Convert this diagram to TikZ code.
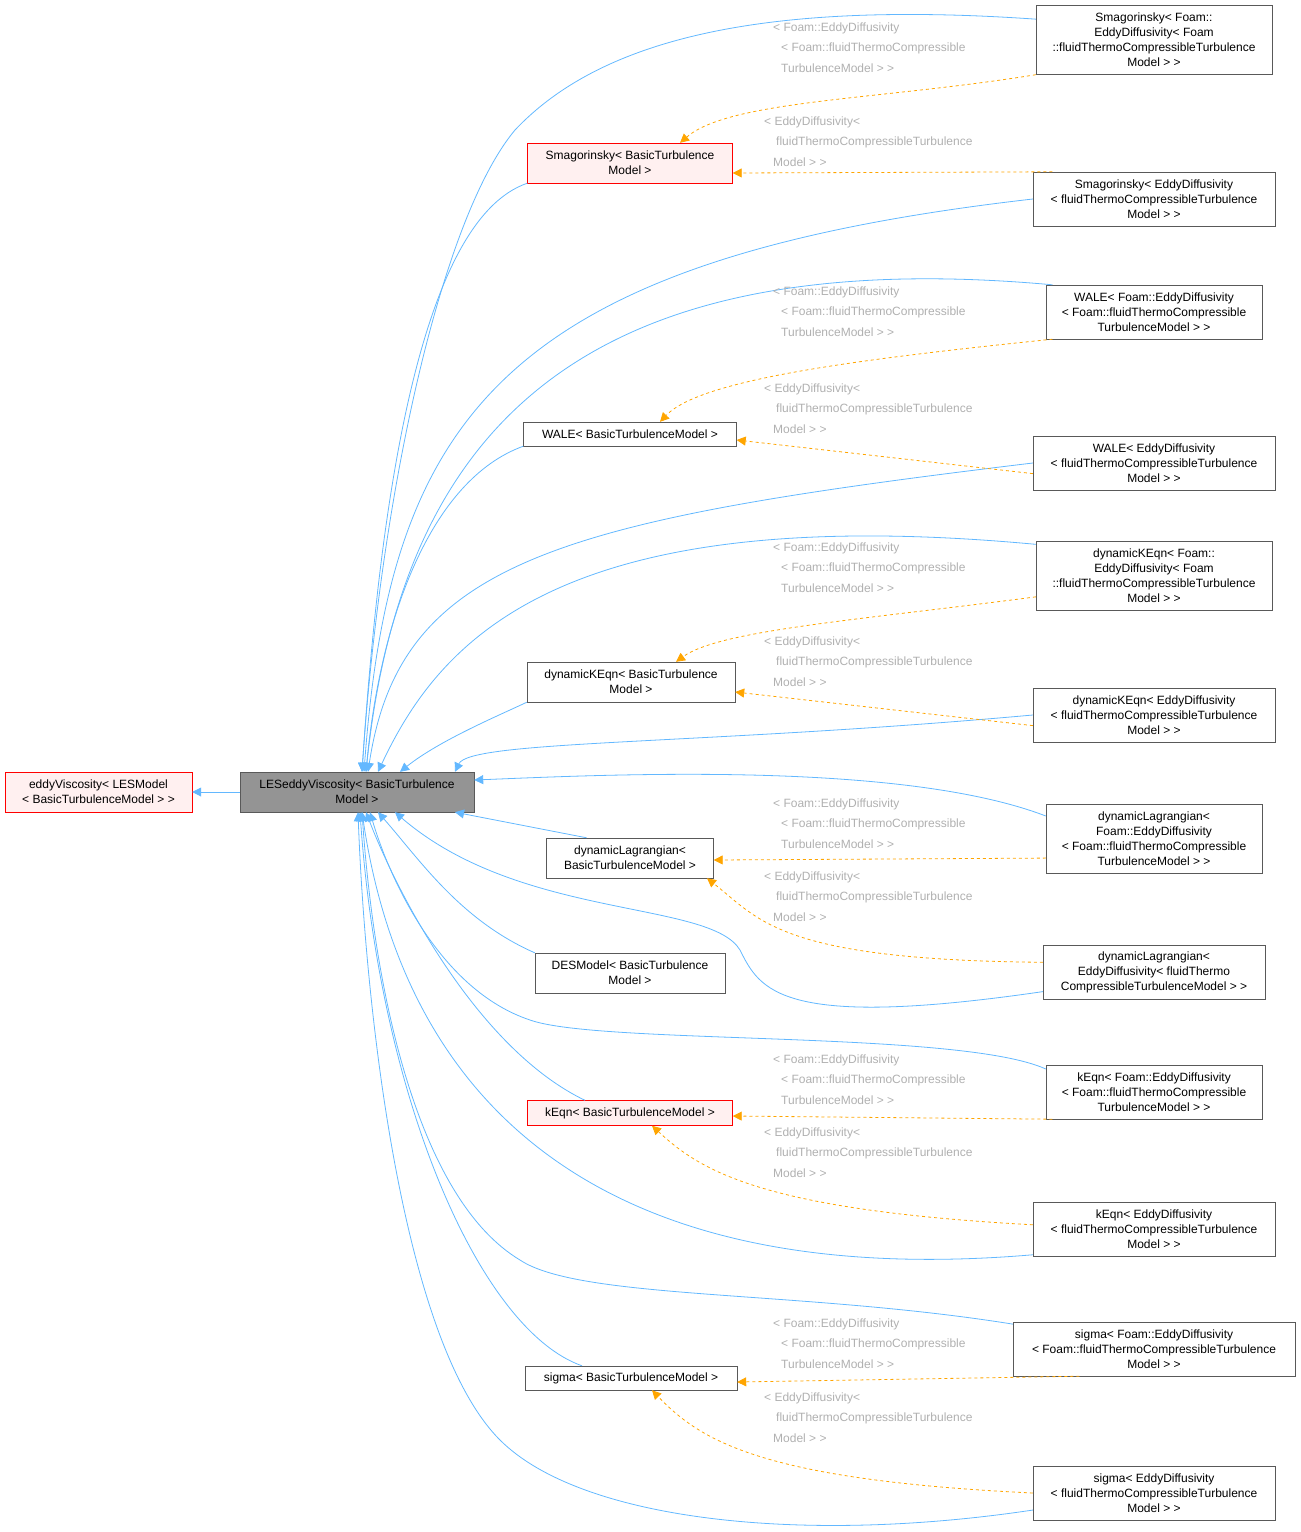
\documentclass[tikz,border=0pt]{standalone}
\usepackage{fontspec}
\setmainfont{Liberation Sans}
\usetikzlibrary{arrows.meta}
\definecolor{inhblue}{HTML}{63B8FF}
\definecolor{tplorange}{HTML}{FFA500}
\definecolor{lblgray}{HTML}{B0B0B0}
\definecolor{redfill}{HTML}{FFF0F0}
\tikzset{
  cls/.style={draw=black!65,fill=white,align=center,inner sep=2pt,font=\fontsize{12}{15}\selectfont},
  redcls/.style={cls,draw=red,fill=redfill},
  inh/.style={inhblue,line width=0.8pt,-{Triangle[length=9pt,width=9pt]}},
  tpl/.style={tplorange,line width=0.8pt,dashed,-{Triangle[length=9pt,width=9pt]}},
  lbl/.style={lblgray,anchor=west,inner sep=0pt,font=\fontsize{12}{15}\selectfont}
}
\begin{document}
\begin{tikzpicture}[x=1pt,y=-1pt]
\useasboundingbox (0,0) rectangle (1301,1532);

% base classes
\node[redcls,minimum width=187,minimum height=40] (eddy) at (98.5,792) {eddyViscosity< LESModel\\< BasicTurbulenceModel > >};
\node[cls,fill=black!42,minimum width=234,minimum height=40] (les) at (357,792) {LESeddyViscosity< BasicTurbulence\\Model >};
\draw[inh] (les) -- (eddy);

% templates
\node[redcls,minimum width=205,minimum height=40] (smag) at (630,163) {Smagorinsky< BasicTurbulence\\Model >};
\node[cls,minimum width=213,minimum height=24] (wale) at (630,434) {WALE< BasicTurbulenceModel >};
\node[cls,minimum width=208,minimum height=40] (dynk) at (631,682) {dynamicKEqn< BasicTurbulence\\Model >};
\node[cls,minimum width=167,minimum height=40] (dynl) at (630,858) {dynamicLagrangian<\\BasicTurbulenceModel >};
\node[cls,minimum width=190,minimum height=40] (des) at (630,973) {DESModel< BasicTurbulence\\Model >};
\node[redcls,minimum width=205,minimum height=25] (keqn) at (630,1113) {kEqn< BasicTurbulenceModel >};
\node[cls,minimum width=212,minimum height=24] (sigma) at (631,1378) {sigma< BasicTurbulenceModel >};

% instances
\node[cls,minimum width=236,minimum height=69] (smagF) at (1154,40) {Smagorinsky< Foam::\\EddyDiffusivity< Foam\\::fluidThermoCompressibleTurbulence\\Model > >};
\node[cls,minimum width=242,minimum height=54] (smagE) at (1154,199) {Smagorinsky< EddyDiffusivity\\< fluidThermoCompressibleTurbulence\\Model > >};
\node[cls,minimum width=216,minimum height=54] (waleF) at (1154,312) {WALE< Foam::EddyDiffusivity\\< Foam::fluidThermoCompressible\\TurbulenceModel > >};
\node[cls,minimum width=242,minimum height=54] (waleE) at (1154,463) {WALE< EddyDiffusivity\\< fluidThermoCompressibleTurbulence\\Model > >};
\node[cls,minimum width=236,minimum height=69] (dynkF) at (1154,576) {dynamicKEqn< Foam::\\EddyDiffusivity< Foam\\::fluidThermoCompressibleTurbulence\\Model > >};
\node[cls,minimum width=242,minimum height=54] (dynkE) at (1154,715) {dynamicKEqn< EddyDiffusivity\\< fluidThermoCompressibleTurbulence\\Model > >};
\node[cls,minimum width=216,minimum height=69] (dynlF) at (1154,839) {dynamicLagrangian<\\Foam::EddyDiffusivity\\< Foam::fluidThermoCompressible\\TurbulenceModel > >};
\node[cls,minimum width=222,minimum height=54] (dynlE) at (1154,972) {dynamicLagrangian<\\EddyDiffusivity< fluidThermo\\CompressibleTurbulenceModel > >};
\node[cls,minimum width=216,minimum height=54] (keqnF) at (1154,1092) {kEqn< Foam::EddyDiffusivity\\< Foam::fluidThermoCompressible\\TurbulenceModel > >};
\node[cls,minimum width=242,minimum height=54] (keqnE) at (1154,1229) {kEqn< EddyDiffusivity\\< fluidThermoCompressibleTurbulence\\Model > >};
\node[cls,minimum width=282,minimum height=54] (sigmaF) at (1154,1349) {sigma< Foam::EddyDiffusivity\\< Foam::fluidThermoCompressibleTurbulence\\Model > >};
\node[cls,minimum width=242,minimum height=54] (sigmaE) at (1154,1493) {sigma< EddyDiffusivity\\< fluidThermoCompressibleTurbulence\\Model > >};

% inheritance edges
\draw[inh] (smagF.170) .. controls (760,0) and (600,40) .. (515,130) .. controls (440,220) and (380,500) .. (les.north -| 362,0);
\draw[inh] (smag.south west) .. controls (420,220) and (380,500) .. (les.north -| 362,0);
\draw[inh] (smagE.west) .. controls (500,260) and (390,420) .. (les.north -| 364,0);
\draw[inh] (waleF.165) .. controls (560,240) and (400,450) .. (les.north -| 366,0);
\draw[inh] (wale.south west) .. controls (430,480) and (380,620) .. (les.north -| 366,0);
\draw[inh] (waleE.west) .. controls (560,520) and (400,560) .. (les.north -| 368,0);
\draw[inh] (dynkF.165) .. controls (560,500) and (440,640) .. (les.north -| 378,0);
\draw[inh] (dynk.south west) .. controls (500,715) and (440,740) .. (les.north -| 400,0);
\draw[inh] (dynkE.west) .. controls (700,745) and (470,740) .. (les.north -| 455,0);
\draw[inh] (dynlF.168) .. controls (900,760) and (600,775) .. (les.east |- 0,780);
\draw[inh] (dynl.155) -- (les.south -| 455,0);
\draw[inh] (dynlE.190) .. controls (780,1030) and (760,990) .. (740,950) .. controls (710,900) and (520,920) .. (les.south -| 395,0);
\draw[inh] (des.north west) .. controls (460,920) and (420,860) .. (les.south -| 378,0);
\draw[inh] (keqnF.168) .. controls (960,1030) and (600,1045) .. (530,1020) .. controls (440,990) and (390,880) .. (les.south -| 370,0);
\draw[inh] (keqn.north -| 585,0) .. controls (480,1050) and (400,900) .. (les.south -| 366,0);
\draw[inh] (keqnE.192) .. controls (500,1300) and (390,1000) .. (les.south -| 362,0);
\draw[inh] (sigmaF.170) .. controls (800,1290) and (580,1300) .. (520,1260) .. controls (420,1200) and (375,1000) .. (les.south -| 362,0);
\draw[inh] (sigma.north -| 582,0) .. controls (480,1330) and (380,1100) .. (les.south -| 360,0);
\draw[inh] (sigmaE.188) .. controls (800,1545) and (580,1520) .. (500,1440) .. controls (400,1340) and (365,1000) .. (les.south -| 358,0);

% template instantiation edges
\draw[tpl] (smagF.south west) .. controls (880,100) and (730,100) .. (smag.north -| 680,0);
\draw[tpl] (smagE.165) -- (smag.east |- 0,173);
\draw[tpl] (waleF.195) .. controls (850,360) and (700,380) .. (wale.north -| 660,0);
\draw[tpl] (waleE.185) -- (wale.east |- 0,440);
\draw[tpl] (dynkF.190) .. controls (860,620) and (720,630) .. (dynk.north -| 676,0);
\draw[tpl] (dynkE.185) -- (dynk.east |- 0,692);
\draw[tpl] (dynlF.190) -- (dynl.east |- 0,860);
\draw[tpl] (dynlE.175) .. controls (780,960) and (760,920) .. (dynl.south -| 707,0);
\draw[tpl] (keqnF.195) -- (keqn.east |- 0,1116);
\draw[tpl] (keqnE.178) .. controls (760,1210) and (700,1170) .. (keqn.south -| 652,0);
\draw[tpl] (sigmaF.200) -- (sigma.east |- 0,1382);
\draw[tpl] (sigmaE.180) .. controls (760,1480) and (700,1440) .. (sigma.south -| 652,0);

% edge labels
\foreach \fy/\ey in {28/122, 292/389, 548/642, 804/877, 1060/1133, 1324/1398} {
  \node[lbl] at (773,\fy) {< Foam::EddyDiffusivity};
  \node[lbl] at (781,\fy+20) {< Foam::fluidThermoCompressible};
  \node[lbl] at (781,\fy+40) {TurbulenceModel > >};
  \node[lbl] at (764,\ey) {< EddyDiffusivity<};
  \node[lbl] at (776,\ey+20) {fluidThermoCompressibleTurbulence};
  \node[lbl] at (773,\ey+40) {Model > >};
}
\end{tikzpicture}
\end{document}
